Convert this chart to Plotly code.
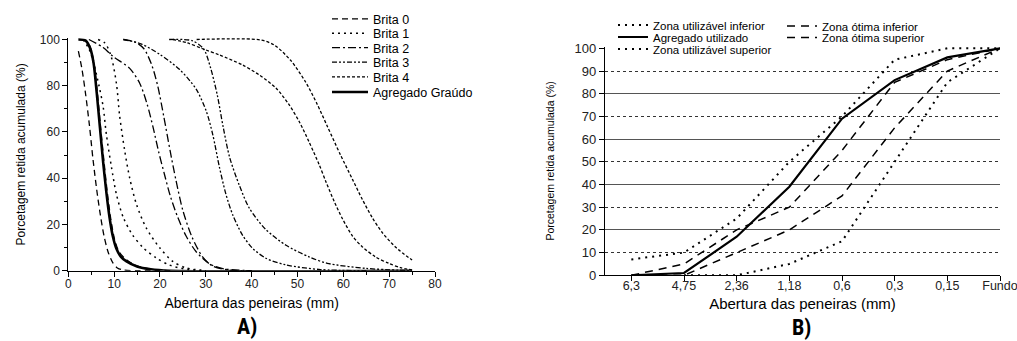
import plotly.graph_objects as go

# ---------------- Panel A data: sieve opening (mm) vs % retained ----------------
brita0a_x = [2.2, 3.0, 3.8, 4.6, 5.4, 6.2, 7.0, 7.8, 8.7, 9.7, 10.7, 12.0, 20.0]
brita0a_y = [95, 87, 76, 63, 48, 35, 24, 15, 8, 3.5, 1.2, 0.3, 0]
brita0b_x = [3.0, 4.5, 5.5, 6.3, 7.0, 7.8, 8.5, 9.3, 10.1, 11.0, 12.5, 14.5, 17.0, 20.0, 23.0]
brita0b_y = [100, 98, 91, 78, 63, 47, 34, 22, 13.5, 8.5, 5, 2.5, 1, 0.3, 0]
brita1a_x = [3.2, 4.5, 5.5, 6.7, 7.6, 8.3, 9.4, 10.5, 12.0, 14.0, 16.3, 19.2, 22.0, 26.0, 30.0]
brita1a_y = [100, 96, 90, 80, 71, 59, 45, 33, 23, 15.5, 10, 5.5, 2.5, 0.5, 0]
brita1b_x = [6.5, 8.0, 9.3, 10.5, 11.2, 12.3, 13.4, 14.9, 17.0, 19.9, 22.8, 25.7, 30.0]
brita1b_y = [100, 98.5, 93, 81, 67, 52, 40, 28.5, 18.5, 10, 4, 1.2, 0]
brita2a_x = [4.5, 7.6, 9.8, 13.4, 15.6, 17.2, 18.5, 19.7, 21.0, 22.3, 23.9, 25.7, 27.9, 30.8, 34.0, 40.0]
brita2a_y = [100, 96.5, 92.6, 87.5, 81, 72, 62, 51.5, 41.5, 32, 23, 15, 8.2, 3, 0.8, 0]
brita2b_x = [12.0, 14.5, 16.5, 18.2, 19.5, 20.8, 22.2, 23.5, 25.0, 27.0, 29.3, 31.5, 35.0, 40.0]
brita2b_y = [100, 99, 96, 89, 80, 67, 52, 39, 26, 14.5, 6, 2, 0.3, 0]
brita3a_x = [12.0, 16.0, 20.0, 24.3, 27.9, 30.1, 31.5, 33.0, 34.4, 35.9, 38.0, 40.2, 43.1, 47.5, 55.0, 65.0]
brita3a_y = [100, 98, 93.5, 87, 78.5, 69, 59, 44.5, 33, 24, 15.4, 9.7, 5.4, 2.5, 0.5, 0]
brita3b_x = [22.0, 27.0, 29.5, 31.0, 32.5, 33.8, 35.2, 37.3, 39.5, 43.0, 47.5, 52.5, 56.5, 65.0, 75.0]
brita3b_y = [100, 99.5, 96, 88, 76, 62, 49, 37, 27, 18, 11, 6, 3.2, 1, 0]
brita4a_x = [22.8, 26.0, 29.3, 33.0, 38.0, 41.7, 45.3, 48.2, 50.4, 52.5, 54.7, 56.2, 58.0, 59.8,
             62.0, 64.1, 67.0, 69.9, 72.5, 75.0]
brita4a_y = [100, 98.5, 96, 93.3, 89, 84.6, 79, 71.7, 64.4, 55.8, 46, 38.5, 30, 22.5,
             15, 10.4, 6, 3.2, 1.3, 0.3]
brita4b_x = [28.0, 42.0, 45.0, 48.5, 51.8, 54.3, 56.5, 59.4, 62.0, 64.1, 66.3, 68.5, 71.5, 75.0]
brita4b_y = [100, 99.8, 97.5, 91, 81.5, 72, 62.5, 50, 39.5, 31, 23, 16.5, 10, 4.6]
agregado_x = [2.2, 3.8, 4.8, 5.5, 6.2, 6.9, 7.6, 8.3, 9.0, 9.7, 10.5, 11.5, 12.7, 15.0, 18.0, 22.0, 75.0]
agregado_y = [100, 99.5, 96, 90, 77, 62, 47, 34, 23, 15, 9.5, 6, 4, 1.8, 0.6, 0, 0]

x_ticks_a = [0, 10, 20, 30, 40, 50, 60, 70, 80]
y_ticks_a = [0, 20, 40, 60, 80, 100]

# ---------------- Panel B data ----------------
peneiras = ["6,3", "4,75", "2,36", "1,18", "0,6", "0,3", "0,15", "Fundo"]
zona_util_inf = [None, 0, 0, 5, 15, 50, 85, 100]
agregado_util = [0, 1, 17, 39, 69, 86, 96, 100]
zona_util_sup = [7, 10, 25, 50, 70, 95, 100, 100]
zona_otima_inf = [0, 0, 10, 20, 35, 65, 90, 100]
zona_otima_sup = [0, 5, 20, 30, 55, 85, 95, 100]
y_ticks_b = [0, 10, 20, 30, 40, 50, 60, 70, 80, 90, 100]
grid_solid_b = [20, 40, 60, 80]
grid_dot_b = [10, 30, 50, 70, 90]

# the page body margin is removed (post_script below), so the figure fills the window
W, H = 1017, 341
FONT = "Liberation Sans, Arial, sans-serif"


def px_x(p):
    return p / W


def px_y(p):
    return 1 - p / H


fig = go.Figure()

left_series = [
    (brita0a_x, brita0a_y, "Brita 0", "6px,4px", 1.3, "legend", True),
    (brita0b_x, brita0b_y, "Brita 0", "6px,4px", 1.3, "legend", False),
    (brita1a_x, brita1a_y, "Brita 1", "2px,4px", 1.5, "legend2", True),
    (brita1b_x, brita1b_y, "Brita 1", "2px,4px", 1.5, "legend2", False),
    (brita2a_x, brita2a_y, "Brita 2", "8px,3px,2px,3px", 1.3, "legend3", True),
    (brita2b_x, brita2b_y, "Brita 2", "8px,3px,2px,3px", 1.3, "legend3", False),
    (brita3a_x, brita3a_y, "Brita 3", "5px,2px,2px,2px,2px,2px", 1.3, "legend4", True),
    (brita3b_x, brita3b_y, "Brita 3", "5px,2px,2px,2px,2px,2px", 1.3, "legend4", False),
    (brita4a_x, brita4a_y, "Brita 4", "3px,2px", 1.3, "legend5", True),
    (brita4b_x, brita4b_y, "Brita 4", "3px,2px", 1.3, "legend5", False),
    (agregado_x, agregado_y, "Agregado Graúdo", "solid", 2.6, "legend6", True),
]
for xs, ys, name, dash, wdt, leg, show in left_series:
    fig.add_trace(go.Scatter(
        x=xs, y=ys, name=name, mode="lines", legend=leg, showlegend=show,
        line=dict(color="black", width=wdt, dash=dash, shape="spline", smoothing=0.8),
        xaxis="x", yaxis="y", hoverinfo="skip"))

right_series = [
    (zona_util_inf, "Zona utilizável inferior", "2px,5px", 2.0, "legend7", "y2"),
    (zona_util_sup, "Zona utilizável superior", "2px,5px", 2.0, "legend9", "y2"),
    (zona_otima_inf, "Zona ótima inferior", "8px,6px", 1.5, "legend10", "y3"),
    (zona_otima_sup, "Zona ótima superior", "8px,6px", 1.5, "legend11", "y3"),
    (agregado_util, "Agregado utilizado", "solid", 2.2, "legend8", "y4"),
]
for ys, name, dash, wdt, leg, ya in right_series:
    fig.add_trace(go.Scatter(
        x=peneiras, y=ys, name=name, mode="lines", legend=leg,
        line=dict(color="black", width=wdt, dash=dash),
        xaxis="x2", yaxis=ya, hoverinfo="skip"))

# ---- domains (pixel-derived) ----
dom_xa = [px_x(68.3), px_x(435)]
dom_ya = [px_y(270.7), px_y(38.1)]
dom_xb = [px_x(605), px_x(1000)]
dom_yb = [px_y(275.3), px_y(46.5)]

tickfont_a = dict(family=FONT, size=12, color="#222")
tickfont_bx = dict(family=FONT, size=12.5, color="#222")
tickfont_by = dict(family=FONT, size=13, color="#222")

layout = dict(
    width=W, height=H,
    margin=dict(l=0, r=0, t=0, b=0, pad=0),
    paper_bgcolor="white", plot_bgcolor="white",
    font=dict(family=FONT, color="black"),
    xaxis=dict(domain=dom_xa, anchor="y", range=[0, 80], tickvals=x_ticks_a,
               automargin=False,
               showline=True, linecolor="black", linewidth=1, ticks="outside",
               ticklen=5, tickcolor="black", showgrid=False, zeroline=False,
               minor=dict(dtick=5, ticks="outside", ticklen=3, tickcolor="black"),
               tickfont=tickfont_a, ticklabelstandoff=-3,
               title=dict(text="Abertura das peneiras (mm)", standoff=8,
                          font=dict(family=FONT, size=14, color="black"))),
    yaxis=dict(domain=dom_ya, anchor="x", range=[0, 100.6], tickvals=y_ticks_a,
               automargin=False,
               showline=True, linecolor="black", linewidth=1, ticks="outside",
               ticklen=5, tickcolor="black", showgrid=False, zeroline=False,
               minor=dict(dtick=10, ticks="outside", ticklen=3, tickcolor="black"),
               tickfont=tickfont_a,
               title=dict(text="Porcetagem retida acumulada (%)", standoff=11,
                          font=dict(family=FONT, size=12, color="black"))),
    xaxis2=dict(domain=dom_xb, anchor="y2", type="category", categoryarray=peneiras,
                categoryorder="array", range=[-0.5, 7], automargin=False,
                showline=True, linecolor="black", linewidth=1.2, ticks="outside",
                ticklen=5, tickcolor="black", showgrid=False, zeroline=False,
                tickfont=tickfont_bx, ticklabelstandoff=-6,
                title=dict(text="Abertura das peneiras (mm)", standoff=6,
                           font=dict(family=FONT, size=15, color="black"))),
    yaxis2=dict(domain=dom_yb, anchor="x2", range=[0, 100.8], tickvals=y_ticks_b,
                automargin=False,
                showline=True, linecolor="black", linewidth=1.2, ticks="outside",
                ticklen=5, tickcolor="black", showgrid=False, zeroline=False,
                tickfont=tickfont_by,
                title=dict(text="Porcetagem retida acumulada (%)", standoff=17,
                           font=dict(family=FONT, size=10.5, color="black"))),
    yaxis3=dict(overlaying="y2", anchor="x2", range=[0, 100.8], tickvals=grid_solid_b,
                automargin=False,
                showticklabels=False, ticks="", showline=False, zeroline=False,
                showgrid=True, gridcolor="#555", gridwidth=1),
    yaxis4=dict(overlaying="y2", anchor="x2", range=[0, 100.8], tickvals=grid_dot_b,
                automargin=False,
                showticklabels=False, ticks="", showline=False, zeroline=False,
                showgrid=True, gridcolor="#333", gridwidth=1, griddash="dot"),
    annotations=[
        dict(text="A)", x=px_x(247), y=px_y(326), xref="paper", yref="paper",
             showarrow=False, xanchor="center", yanchor="middle",
             font=dict(family="Liberation Sans Narrow, Roboto Condensed, Liberation Sans",
                       size=22, color="black", weight="bold")),
        dict(text="B)", x=px_x(801), y=px_y(327), xref="paper", yref="paper",
             showarrow=False, xanchor="center", yanchor="middle",
             font=dict(family="Liberation Sans Narrow, Roboto Condensed, Liberation Sans",
                       size=22, color="black", weight="bold")),
    ],
)

# one legend per row so the rows can sit as tightly as in the reference
left_rows = [19.3, 33.6, 48.0, 62.4, 77.2, 92.4]
left_ids = ["legend", "legend2", "legend3", "legend4", "legend5", "legend6"]
for lid, row in zip(left_ids, left_rows):
    layout[lid] = dict(x=px_x(327), y=px_y(row), xanchor="left", yanchor="middle",
                       bgcolor="rgba(0,0,0,0)", borderwidth=0, itemwidth=36,
                       font=dict(family=FONT, size=12.5, color="black"))

right_cfg = [("legend7", 613, 25.0), ("legend8", 613, 37.0), ("legend9", 613, 49.0),
             ("legend10", 782, 26.0), ("legend11", 782, 37.5)]
for lid, xpx, row in right_cfg:
    layout[lid] = dict(x=px_x(xpx), y=px_y(row), xanchor="left", yanchor="middle",
                       bgcolor="rgba(0,0,0,0)", borderwidth=0, itemwidth=30,
                       font=dict(family=FONT, size=11.5, color="black"))

fig.update_layout(**layout)
fig.write_html(
    "out.html",
    config={"displayModeBar": False},
    post_script="document.body.style.margin='0';document.body.style.overflow='hidden';",
)
